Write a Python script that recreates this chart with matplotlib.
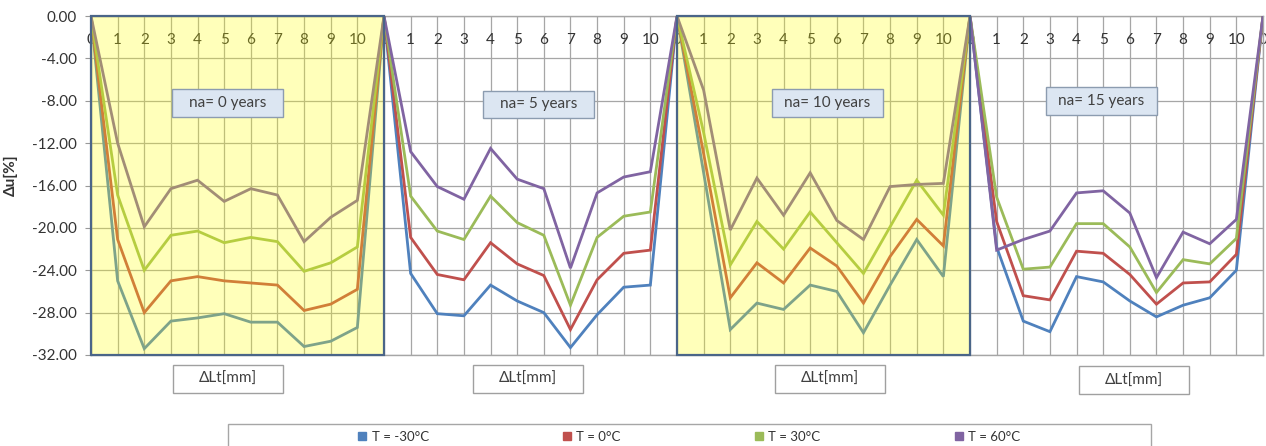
import matplotlib
matplotlib.use('Agg')
import matplotlib.pyplot as plt
from matplotlib.patches import Rectangle
from matplotlib.lines import Line2D

plt.rcParams['font.family'] = ['Lato', 'DejaVu Sans']

# etiquetas del eje de categorias (0..10 por panel)
cats = [0, 1, 2, 3, 4, 5, 6, 7, 8, 9, 10]
panels = ['na= 0 years', 'na= 5 years', 'na= 10 years', 'na= 15 years']
temps = ['T = -30°C', 'T = 0°C', 'T = 30°C', 'T = 60°C']

# valores por panel (na = 0, 5, 10, 15 años), un valor por categoria
m30_na0 = [0.0, -25.0, -31.4, -28.8, -28.5, -28.1, -28.9, -28.9, -31.2, -30.7, -29.4]
m30_na5 = [0.0, -24.3, -28.1, -28.3, -25.4, -26.9, -28.0, -31.3, -28.2, -25.6, -25.4]
m30_na10 = [0.0, -14.8, -29.6, -27.1, -27.7, -25.4, -26.0, -29.9, -25.4, -21.1, -24.6]
m30_na15 = [0.0, -21.8, -28.8, -29.8, -24.6, -25.1, -26.9, -28.4, -27.3, -26.6, -24.0]

c0_na0 = [0.0, -21.1, -28.0, -25.0, -24.6, -25.0, -25.2, -25.4, -27.8, -27.2, -25.8]
c0_na5 = [0.0, -20.9, -24.4, -24.9, -21.4, -23.4, -24.5, -29.6, -24.9, -22.4, -22.1]
c0_na10 = [0.0, -13.0, -26.6, -23.3, -25.2, -21.9, -23.6, -27.1, -22.7, -19.2, -21.7]
c0_na15 = [0.0, -19.4, -26.4, -26.8, -22.2, -22.4, -24.4, -27.2, -25.2, -25.1, -22.5]

c30_na0 = [0.0, -16.9, -24.0, -20.7, -20.3, -21.4, -20.9, -21.3, -24.1, -23.3, -21.8]
c30_na5 = [0.0, -17.0, -20.3, -21.1, -17.0, -19.5, -20.7, -27.3, -20.9, -18.9, -18.5]
c30_na10 = [0.0, -11.0, -23.5, -19.4, -22.0, -18.5, -21.4, -24.3, -19.9, -15.5, -18.8]
c30_na15 = [0.0, -17.1, -23.9, -23.7, -19.6, -19.6, -21.8, -26.1, -23.0, -23.4, -21.0]

c60_na0 = [0.0, -12.0, -19.9, -16.3, -15.5, -17.5, -16.3, -16.9, -21.3, -19.0, -17.4]
c60_na5 = [0.0, -12.8, -16.1, -17.3, -12.5, -15.4, -16.3, -23.8, -16.7, -15.2, -14.7]
c60_na10 = [0.0, -7.0, -20.2, -15.3, -18.8, -14.8, -19.3, -21.1, -16.1, -15.9, -15.8]
c60_na15 = [0.0, -22.1, -21.1, -20.3, -16.7, -16.5, -18.6, -24.7, -20.4, -21.5, -19.2]
end_val = 0.0

series = [
    m30_na0 + m30_na5 + m30_na10 + m30_na15 + [end_val],
    c0_na0 + c0_na5 + c0_na10 + c0_na15 + [end_val],
    c30_na0 + c30_na5 + c30_na10 + c30_na15 + [end_val],
    c60_na0 + c60_na5 + c60_na10 + c60_na15 + [end_val],
]
colores = ['#4F81BD', '#C0504D', '#9BBB59', '#8064A2']

labels_x = [str(c) for c in cats] * len(panels) + [str(cats[0])]
xs = list(range(len(labels_x)))
n = len(cats)


def caja(ax, xc, yc, w, h, texto, fc, ec):
    # rectangulo con texto centrado (coordenadas de datos)
    ax.add_patch(Rectangle((xc - w / 2, yc - h / 2), w, h, facecolor=fc,
                           edgecolor=ec, linewidth=1.0, zorder=6, clip_on=False))
    ax.text(xc, yc, texto, ha='center', va='center', fontsize=11,
            color='#404040', zorder=7, clip_on=False)


fig = plt.figure(figsize=(12.66, 4.46), dpi=100)
ax = fig.add_axes([91 / 1266, 91 / 446, 1172 / 1266, 339 / 446])

for ys, col in zip(series, colores):
    ax.plot(xs, ys, color=col, linewidth=2.0, zorder=3, solid_joinstyle='miter')

ax.set_xlim(0, len(xs) - 1)
ax.set_ylim(-32, 0)
ax.set_yticks(range(-32, 1, 4))
ax.set_yticklabels([f'{v:.2f}' for v in range(-32, 1, 4)])
ax.set_xticks(xs)
ax.set_xticklabels(labels_x)
ax.xaxis.tick_top()
ax.tick_params(axis='x', length=0, pad=-22, labelsize=11, labelcolor='#333333')
ax.tick_params(axis='y', length=4, color='#999999', labelsize=11,
               labelcolor='#333333', pad=6)
ax.grid(True, color='#a6a6a6', linewidth=0.9, zorder=0)
ax.set_axisbelow(True)
for s in ax.spines.values():
    s.set_color('#a6a6a6')
    s.set_linewidth(1.0)

ax.set_ylabel('Δu[%]', fontsize=11, fontweight='bold', color='#333333')
ax.yaxis.set_label_coords(-0.062, 0.53)

# sombreado amarillo para los paneles 1 y 3
for k in (0, 2):
    ax.add_patch(Rectangle((k * n, -32), n, 32, facecolor=(1, 1, 0, 0.27),
                           edgecolor='#4a6588', linewidth=1.6, zorder=4, clip_on=False))

# cajas de texto de cada panel
na_pos = [(5.12, -8.2), (16.8, -8.35), (27.65, -8.2), (37.93, -8.0)]
for (xc, yc), t in zip(na_pos, panels):
    caja(ax, xc, yc, 4.17, 2.6, t, '#DCE6F2', '#8c9cb0')

lt_pos = [(5.14, -34.25), (16.41, -34.25), (27.74, -34.25), (39.16, -34.4)]
for xc, yc in lt_pos:
    caja(ax, xc, yc, 4.13, 2.64, 'ΔLt[mm]', 'white', '#a0a0a0')

# leyenda
fig.add_artist(Rectangle((228 / 1266, -0.05), (1151 - 228) / 1266, 0.05 + 22 / 446,
                         transform=fig.transFigure, facecolor='white',
                         edgecolor='#a6a6a6', linewidth=1.0, clip_on=False))
handles = [Line2D([], [], linestyle='none', marker='s', markersize=6,
                  markerfacecolor=c, markeredgecolor=c) for c in colores]
fig.legend(handles, temps, ncol=4, mode='expand', frameon=False,
           loc='center left', bbox_to_anchor=(357 / 1266, 9 / 446, (1020 - 357) / 1266, 0.0),
           fontsize=9.5, handlelength=0.8, handletextpad=0.3, borderaxespad=0,
           borderpad=0, labelcolor='#333333')

fig.savefig('out.png', dpi=100)
